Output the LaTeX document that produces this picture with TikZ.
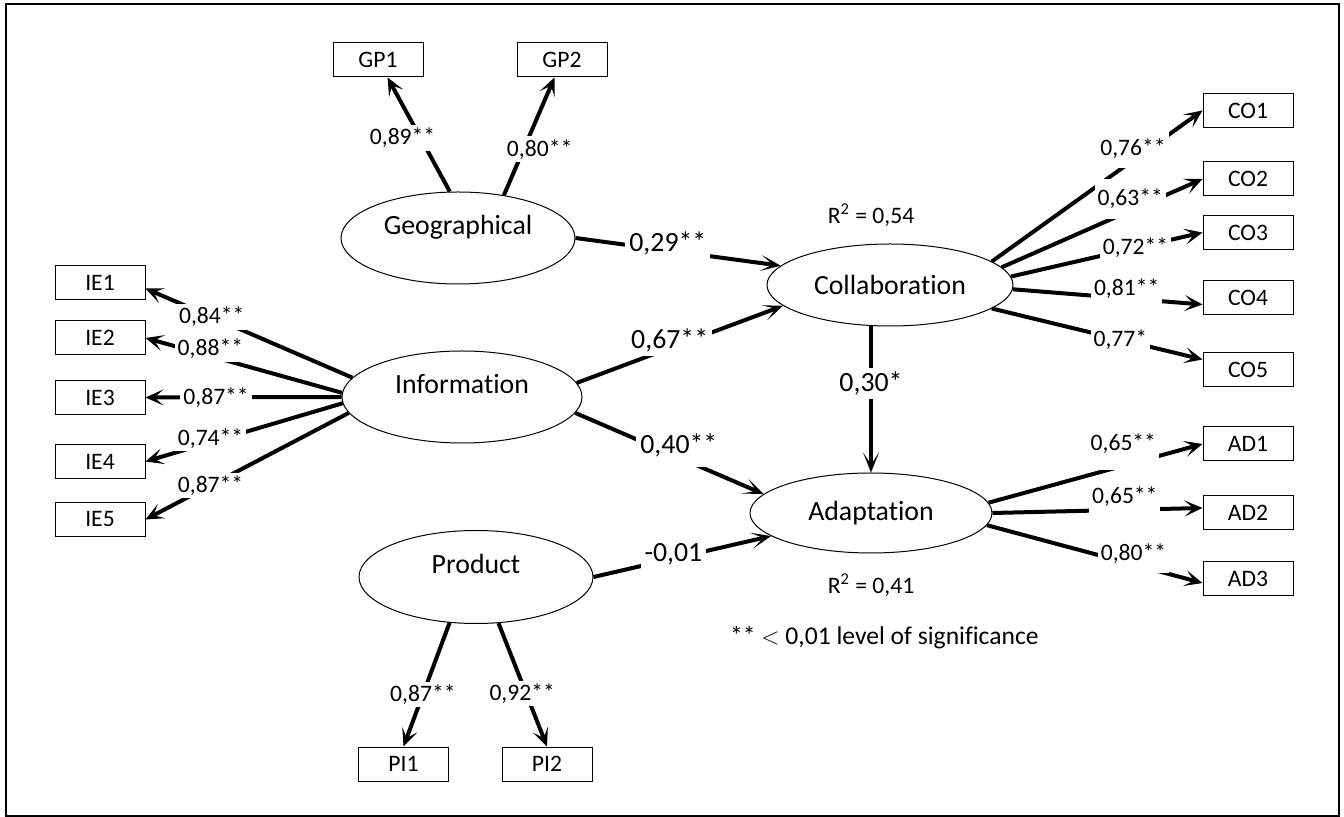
\documentclass[tikz,border=0pt]{standalone}
\usepackage{fontspec}
\setmainfont{Carlito}[Ligatures=NoCommon]
\usepackage{tikz}
\usetikzlibrary{arrows.meta,positioning,shapes.geometric}

\begin{document}
\begin{tikzpicture}[
    x=0.5pt, y=-0.5pt,
    latent/.style={draw, ellipse, line width=0.5pt, inner sep=1pt,
                   font=\fontsize{13.9}{16}\selectfont},
    raised/.style={text height=10pt, text depth=13pt},
    item/.style={draw, line width=0.5pt, minimum width=45pt,
                 minimum height=17pt, inner sep=0pt,
                 font=\fontsize{11.8}{14}\selectfont},
    load/.style={-{Stealth[length=9pt, width=8pt, inset=4.5pt]},
                 line width=2pt},
    regr/.style={-{Stealth[length=10pt, width=8pt, inset=6pt]},
                 line width=2pt},
    lbl/.style={fill=white, inner sep=1.5pt,
                font=\fontsize{11.8}{14}\selectfont},
    biglbl/.style={fill=white, inner sep=2pt,
                   font=\fontsize{13.9}{16}\selectfont}
]
    \useasboundingbox (0,0) rectangle (1344,817);
    \draw[line width=1pt] (6,4.5) rectangle (1338.5,816);

    % latent constructs
    \node[latent, raised, minimum width=117pt, minimum height=46pt]
        (geo) at (458,238) {Geographical};
    \node[latent, raised, minimum width=120pt, minimum height=46pt]
        (info) at (462,397) {Information};
    \node[latent, raised, minimum width=117pt, minimum height=46.5pt]
        (prod) at (476,577) {Product};
    \node[latent, minimum width=123pt, minimum height=41pt]
        (collab) at (890,285) {Collaboration};
    \node[latent, minimum width=121pt, minimum height=40pt]
        (adapt) at (871,513) {Adaptation};

    % indicators
    \node[item] (gp1) at (378,60) {GP1};
    \node[item] (gp2) at (562,60) {GP2};
    \node[item] (ie1) at (100,282.5) {IE1};
    \node[item] (ie2) at (100,338) {IE2};
    \node[item] (ie3) at (100,397.5) {IE3};
    \node[item] (ie4) at (100,461.5) {IE4};
    \node[item] (ie5) at (100,519.5) {IE5};
    \node[item] (co1) at (1248,110.5) {CO1};
    \node[item] (co2) at (1248,179) {CO2};
    \node[item] (co3) at (1248,232.5) {CO3};
    \node[item] (co4) at (1248,297.5) {CO4};
    \node[item] (co5) at (1248,369.5) {CO5};
    \node[item] (ad1) at (1248,444) {AD1};
    \node[item] (ad2) at (1248,513) {AD2};
    \node[item] (ad3) at (1248,579) {AD3};
    \node[item] (pi1) at (403.5,764) {PI1};
    \node[item] (pi2) at (547,764) {PI2};

    % loadings
    \draw[load] (geo.100) -- node[lbl, pos=0.47, xshift=-9pt] {0,89**} (gp1);
    \draw[load] (geo.43) -- node[lbl, pos=0.39, xshift=8pt] {0,80**} (gp2);

    \draw[load] (info.170) -- node[lbl, pos=0.68] {0,84**} ([yshift=-3pt]ie1.east);
    \draw[load] (info.178) -- node[lbl, pos=0.67, yshift=3.5pt] {0,88**} (ie2.east);
    \draw[load] (info.west) -- node[lbl, pos=0.64] {0,87**} (ie3.east);
    \draw[load] (info.183) -- node[lbl, pos=0.67, yshift=2pt] {0,74**} (ie4.east);
    \draw[load] (info.188) -- node[lbl, pos=0.68] {0,87**} (ie5.east);

    \draw[load] (collab.13) -- node[lbl, pos=0.67, yshift=6pt, inner ysep=5pt] {0,76**} (co1.west);
    \draw[load] (collab.9) -- node[lbl, pos=0.64, yshift=6pt, inner ysep=5pt] {0,63**} (co2.west);
    \draw[load] (collab.4) -- node[lbl, pos=0.65] {0,72**} (co3.west);
    \draw[load] (collab.-2) -- node[lbl, pos=0.6, yshift=5pt, inner ysep=4pt] {0,81**} ([yshift=-3.5pt]co4.west);
    \draw[load] (collab.347) -- node[lbl, pos=0.61] {0,77*} ([yshift=5pt]co5.west);

    \draw[load] (adapt.5) -- node[lbl, pos=0.63, yshift=11pt, inner ysep=8pt] {0,65**} (ad1.west);
    \draw[load] (adapt.east) -- node[lbl, pos=0.63, yshift=6.5pt, inner ysep=5pt] {0,65**} ([yshift=2.5pt]ad2.west);
    \draw[load] (adapt.354) -- node[lbl, pos=0.68, yshift=5.5pt, inner ysep=5pt] {0,80**} ([yshift=-2pt]ad3.west);

    \draw[load] (prod.240) -- node[lbl, pos=0.58] {0,87**} (pi1.north);
    \draw[load] (prod.296) -- node[lbl, pos=0.57, xshift=-2pt] {0,92**} (pi2.north);

    % structural paths
    \draw[regr] (geo.east) -- node[biglbl, pos=0.45, yshift=3.5pt] {0,29**} (collab.170);
    \draw[regr] (info.7) -- node[biglbl, pos=0.45, yshift=4pt] {0,67**} (collab.191);
    \draw[regr] (info.352) -- node[biglbl, pos=0.55, yshift=6pt, inner ysep=5pt] {0,40**} (adapt.170);
    \draw[regr] (prod.east) -- node[biglbl, pos=0.45, yshift=2pt] {-0,01} (adapt.193);
    \draw[regr] (adapt.north |- collab.south) -- node[biglbl, pos=0.39] {0,30*} (adapt.north);

    % explained variance and note
    \node[font=\fontsize{11.8}{14}\selectfont] (r2collab) at (871,215) {R\textsuperscript{2} = 0,54};
    \node[font=\fontsize{11.8}{14}\selectfont] (r2adapt) at (871,585) {R\textsuperscript{2} = 0,41};
    \node[anchor=west, font=\fontsize{12.8}{15}\selectfont] (note) at (723,638)
        {** $<$ 0,01 level of significance};
\end{tikzpicture}
\end{document}
